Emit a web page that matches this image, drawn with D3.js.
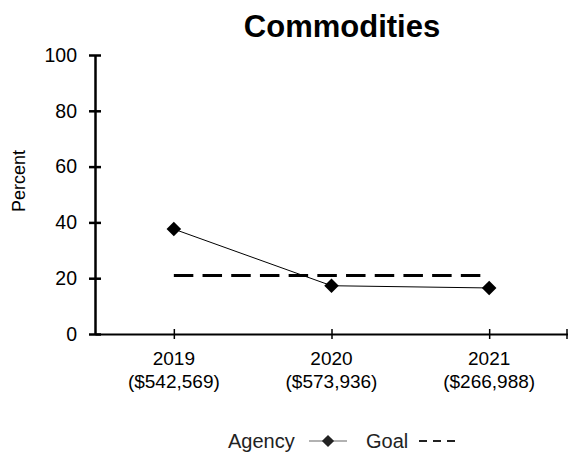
<!DOCTYPE html>
<html>
<head>
<meta charset="utf-8">
<script src="https://cdn.jsdelivr.net/npm/d3@7"></script>
<style>
  html, body { margin: 0; padding: 0; background: #fff; }
  svg { display: block; font-family: Arial, "Liberation Sans", sans-serif; }
</style>
</head>
<body>
<svg id="chart" width="568" height="462"></svg>
<script>
const years = ["2019", "2020", "2021"];
const amounts = ["($542,569)", "($573,936)", "($266,988)"];
const agency = [37.6, 17.3, 16.5];
const goal = [21, 21, 21];
const yTicks = [0, 20, 40, 60, 80, 100];

const svg = d3.select("#chart");
const mLeft = 95, mRight = 568, mTop = 55, mBottom = 334;

const x = d3.scalePoint().domain(years).range([mLeft, mRight]).padding(0.5);
const y = d3.scaleLinear().domain([0, 100]).range([mBottom, mTop]);

// Title
svg.append("text").attr("x", 342).attr("y", 37).attr("text-anchor", "middle")
  .attr("font-size", 31).attr("font-weight", "bold").attr("fill", "#000").text("Commodities");

// Y axis
const yAxis = d3.axisLeft(y).tickValues(yTicks).tickSize(6).tickSizeOuter(0).tickPadding(12);
const gy = svg.append("g").attr("transform", `translate(${mLeft},0)`).call(yAxis);
gy.select(".domain").attr("stroke-width", 2.5).attr("stroke", "#000");
gy.selectAll(".tick line").attr("x1", 6).attr("stroke-width", 2.5).attr("stroke", "#000");
gy.selectAll(".tick text").attr("font-size", 19.5).attr("fill", "#000").attr("font-family", "Arial, 'Liberation Sans', sans-serif");

// X axis
const xAxis = d3.axisBottom(x).tickSize(5).tickSizeOuter(0).tickFormat(() => "");
const gx = svg.append("g").attr("transform", `translate(0,${mBottom})`).call(xAxis);
gx.select(".domain").attr("stroke-width", 2).attr("stroke", "#000");
gx.selectAll(".tick line").attr("y1", -5).attr("stroke-width", 1.5).attr("stroke", "#000");
gx.append("line").attr("x1", mRight - 1).attr("x2", mRight - 1).attr("y1", -5).attr("y2", 5)
  .attr("stroke", "#000").attr("stroke-width", 1.5);

// X labels (two lines)
years.forEach((yr, i) => {
  const t = svg.append("text").attr("text-anchor", "middle").attr("font-size", 19).attr("fill", "#000");
  t.append("tspan").attr("x", x(yr)).attr("y", 365).text(yr);
  t.append("tspan").attr("x", x(yr)).attr("y", 388).text(amounts[i]);
});

// Y axis title
svg.append("text").attr("transform", "translate(25,181) rotate(-90)")
  .attr("text-anchor", "middle").attr("font-size", 18).attr("fill", "#000").text("Percent");

// Goal line
const line = d3.line().x((d, i) => x(years[i])).y(d => y(d));
svg.append("path").datum(goal).attr("d", line).attr("fill", "none")
  .attr("stroke", "#000").attr("stroke-width", 3).attr("stroke-dasharray", "19.5,9.2");

// Agency line
svg.append("path").datum(agency).attr("d", line).attr("fill", "none")
  .attr("stroke", "#000").attr("stroke-width", 1);

const diamond = d3.symbol().type(d3.symbolDiamond2).size(135);
svg.selectAll(".pt").data(agency).enter().append("path")
  .attr("transform", (d, i) => `translate(${x(years[i])},${y(d)})`)
  .attr("d", diamond).attr("fill", "#000");

// Legend
const ly = 448;
svg.append("text").attr("x", 228).attr("y", ly).attr("font-size", 20).attr("fill", "#222").text("Agency");
svg.append("line").attr("x1", 309).attr("x2", 347).attr("y1", ly - 7).attr("y2", ly - 7)
  .attr("stroke", "#666").attr("stroke-width", 1.2);
svg.append("path").attr("transform", `translate(328,${ly - 7})`)
  .attr("d", d3.symbol().type(d3.symbolDiamond2).size(95)).attr("fill", "#222");
svg.append("text").attr("x", 366).attr("y", ly).attr("font-size", 20).attr("fill", "#222").text("Goal");
svg.append("line").attr("x1", 419).attr("x2", 455).attr("y1", ly - 7).attr("y2", ly - 7)
  .attr("stroke", "#222").attr("stroke-width", 2).attr("stroke-dasharray", "8,6");
</script>
</body>
</html>
